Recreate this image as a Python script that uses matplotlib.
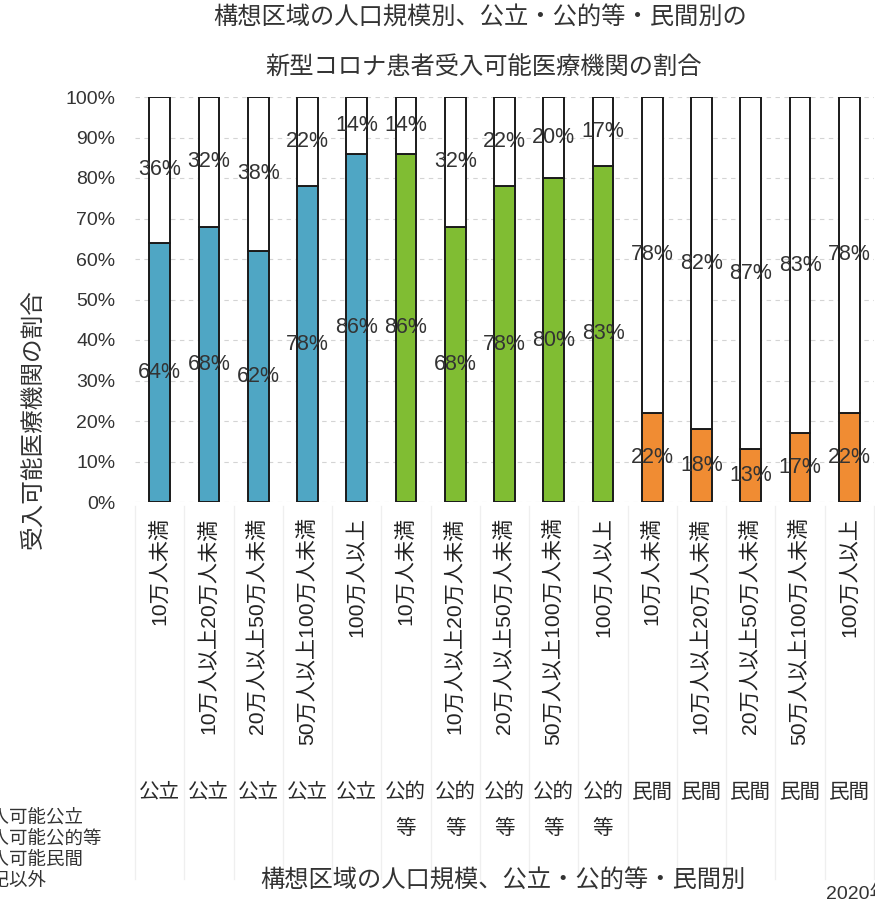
import numpy as np
import matplotlib
matplotlib.use("Agg")
import matplotlib.pyplot as plt

plt.rcParams['font.family'] = ['Liberation Sans', 'Noto Sans CJK JP']

# data
size_labels = ['10万人未満', '10万人以上20万人未満', '20万人以上50万人未満',
               '50万人以上100万人未満', '100万人以上'] * 3
owner_labels = ['公立'] * 5 + ['公的\n等'] * 5 + ['民間'] * 5
public = [64, 68, 62, 78, 86]
semi_public = [86, 68, 78, 80, 83]
private = [22, 18, 13, 17, 22]
accept = public + semi_public + private
other = [36, 32, 38, 22, 14, 14, 32, 22, 20, 17, 78, 82, 87, 83, 78]
legend_labels = ['受入可能公立', '受入可能公的等', '受入可能民間', '上記以外']

colors = ['#4fa6c4'] * 5 + ['#80bd33'] * 5 + ['#f08c33'] * 5

W, H = 875, 900
fig = plt.figure(figsize=(W / 100, H / 100), dpi=100)
ax = fig.add_axes([135 / W, 1 - 502 / H, 739 / W, 405 / H])

x = np.arange(len(accept))
ax.bar(x, accept, width=0.42, color=colors, edgecolor='#1a1a1a', linewidth=1.4, zorder=3)
ax.bar(x, other, bottom=accept, width=0.42, color='white', edgecolor='#1a1a1a',
       linewidth=1.4, zorder=3)

for i in x:
    ax.text(i, accept[i] / 2, f'{accept[i]}%', ha='center', va='center',
            fontsize=15.5, color='#333333', zorder=4)
    ax.text(i, accept[i] + other[i] / 2, f'{other[i]}%', ha='center', va='center',
            fontsize=15.5, color='#333333', zorder=4)

ax.set_xlim(-0.5, len(accept) - 0.5)
ax.set_ylim(0, 100)
ax.set_yticks(range(0, 101, 10))
ax.set_yticklabels([f'{v}%' for v in range(0, 101, 10)], fontsize=14, color='#333333')
ax.set_xticks(x)
ax.set_xticklabels(size_labels, rotation=90, fontsize=15.2, color='#222222', va='top')
ax.tick_params(axis='y', length=0, pad=14)
ax.tick_params(axis='x', length=0, pad=11)
for s in ax.spines.values():
    s.set_visible(False)
ax.grid(axis='y', color='#d4d4d4', linestyle=(0, (4, 4)), linewidth=0.8, zorder=0)

# faint table lines below the bars
for b in np.arange(-0.5, len(accept), 1.0):
    ax.axvline(b, ymin=-0.93, ymax=-0.01, color='#efefef', linewidth=0.9, clip_on=False)

tr = ax.get_xaxis_transform()
for i, lab in enumerate(owner_labels):
    ax.text(i, -0.693, lab, transform=tr, ha='center', va='top', fontsize=14.8,
            color='#2a2a2a', linespacing=2.15)

fig.text(480 / W, 1 - 18 / H, '構想区域の人口規模別、公立・公的等・民間別の',
         ha='center', va='center', fontsize=17.5, color='#333333')
fig.text(484 / W, 1 - 68 / H, '新型コロナ患者受入可能医療機関の割合',
         ha='center', va='center', fontsize=17.5, color='#333333')
fig.text(33 / W, 1 - 419 / H, '受入可能医療機関の割合', rotation=90,
         ha='center', va='center', fontsize=17, color='#333333')
fig.text(503 / W, 1 - 881 / H, '構想区域の人口規模、公立・公的等・民間別',
         ha='center', va='center', fontsize=17.5, color='#333333')

# legend text, cut off at the left edge like the scan
for k, lab in enumerate(legend_labels):
    fig.text(-28 / W, 1 - (818 + 21 * k) / H, lab, ha='left', va='center',
             fontsize=13.3, color='#333333')
fig.text(826 / W, 1 - 885 / H, '2020年', ha='left', va='top', fontsize=14, color='#333333')

fig.savefig('out.png', dpi=100, facecolor='white')
